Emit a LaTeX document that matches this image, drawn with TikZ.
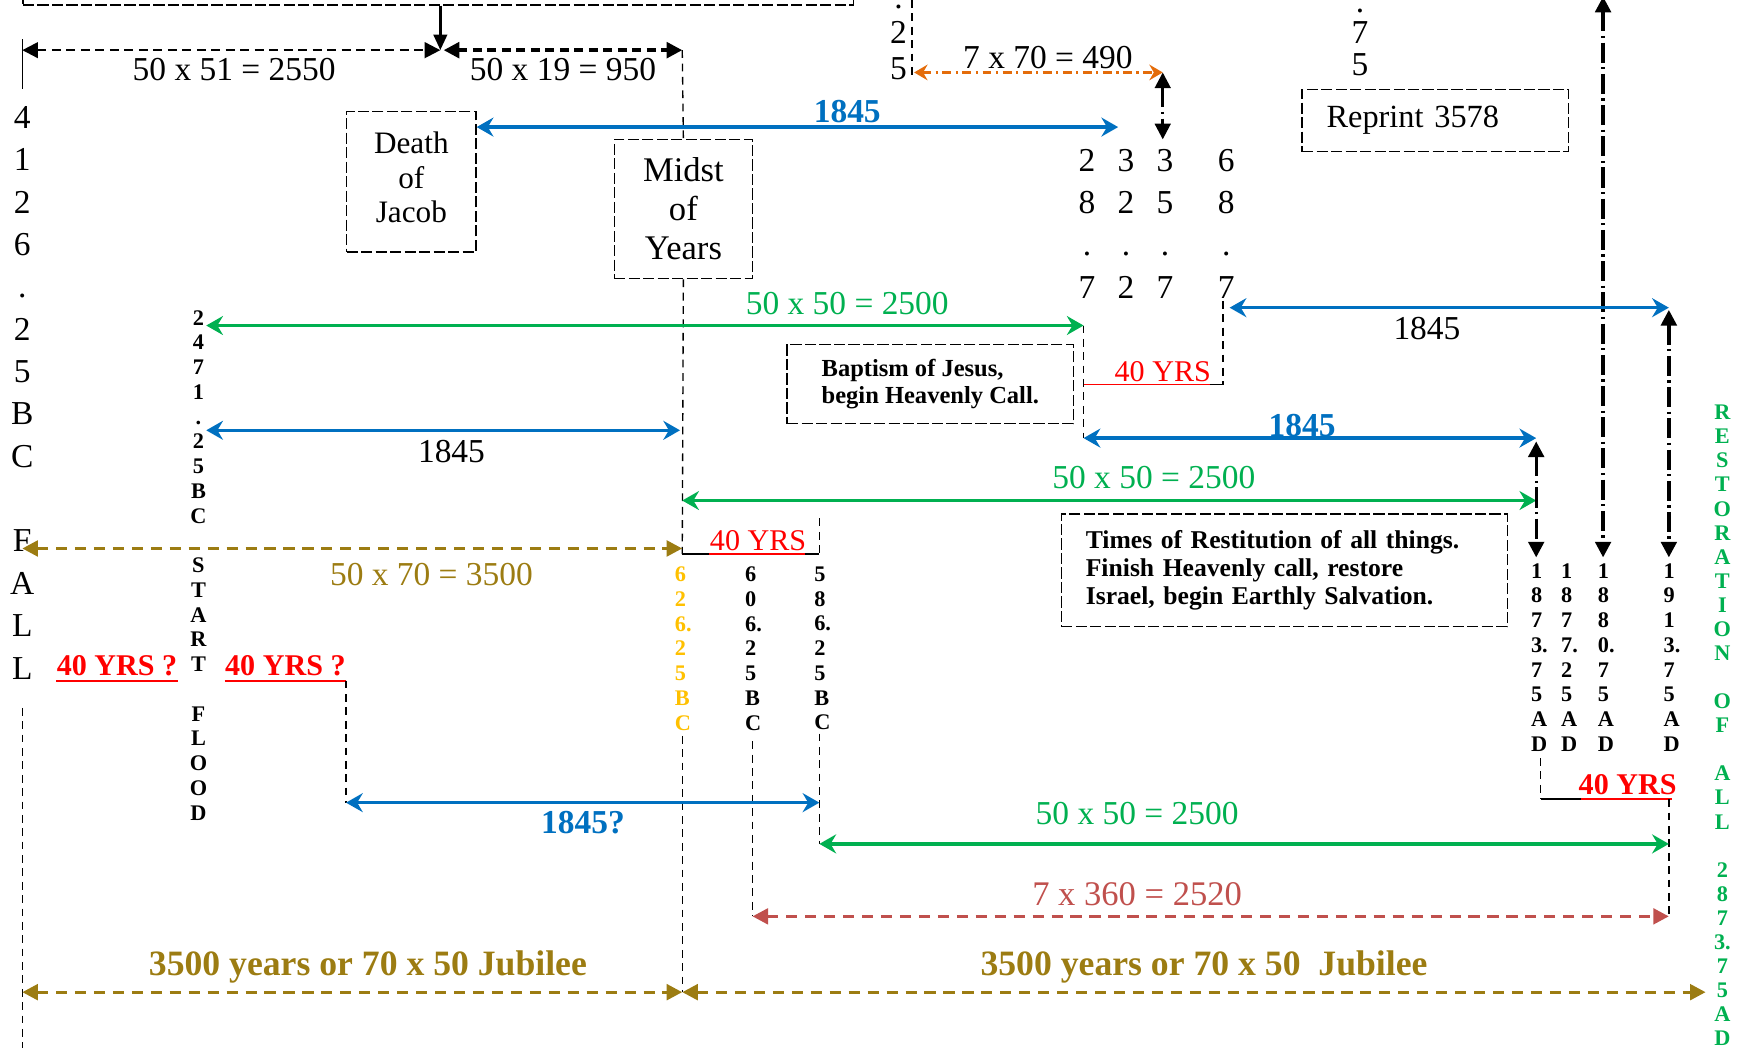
\documentclass[tikz,border=0pt]{standalone}
\usepackage{fontspec}
\setmainfont{Liberation Serif}
\usetikzlibrary{arrows.meta}
\definecolor{tlblue}{HTML}{0070C0}
\definecolor{tlgreen}{HTML}{00B050}
\definecolor{tlgold}{HTML}{9C7C12}
\definecolor{tlred}{HTML}{FF0000}
\definecolor{tlrose}{HTML}{C0504D}
\definecolor{tlorange}{HTML}{E46C0A}
\definecolor{tlyellow}{HTML}{FFC000}
\tikzset{
  % --- dashed text boxes and thin guide lines ---
  dbox/.style={draw=black, line width=0.6pt, dash pattern=on 5pt off 1.5pt,
               align=center, inner sep=0pt},
  guide/.style={draw=black, line width=0.6pt, dash pattern=on 3.5pt off 2.5pt},
  % --- spans between two dates ---
  drop/.style={draw=black, line width=1.4pt, -{Triangle[length=7pt,width=6pt]}},
  bspan/.style={draw=black, line width=1pt, dash pattern=on 4pt off 2.5pt,
                {Triangle[length=7pt,width=7pt]}-{Triangle[length=7pt,width=7pt]}},
  cspan/.style={line width=1.5pt,
                {Stealth[length=7.5pt,width=8.5pt,inset=2.5pt]}-{Stealth[length=7.5pt,width=8.5pt,inset=2.5pt]}},
  jspan/.style={line width=1.5pt, dash pattern=on 5pt off 3.5pt,
                {Triangle[length=7pt,width=7pt]}-{Triangle[length=7pt,width=7pt]}},
  ospan/.style={draw=tlorange, line width=1.2pt,
                dash pattern=on 4pt off 2pt on 1pt off 2pt,
                {Stealth[length=6pt,width=7pt,inset=2pt]}-{Stealth[length=6pt,width=7pt,inset=2pt]}},
  pointer/.style={draw=black, line width=1.5pt,
                  dash pattern=on 9pt off 2pt on 1pt off 2pt,
                  -{Triangle[length=7pt,width=7pt]}},
  twopointer/.style={pointer, {Triangle[length=7pt,width=7pt]}-{Triangle[length=7pt,width=7pt]}},
  % --- texts ---
  lbl/.style={inner sep=0pt, font=\fontsize{15}{18}\selectfont},
  blbl/.style={inner sep=0pt, font=\fontsize{15}{18}\selectfont\bfseries},
  yrs/.style={inner sep=0pt, text=tlred, font=\fontsize{13.5}{16}\selectfont},
  byrs/.style={yrs, font=\fontsize{13.5}{16}\selectfont\bfseries},
  bigcol/.style={inner sep=0pt, align=center, font=\fontsize{15}{19}\selectfont},
  smallcol/.style={inner sep=0pt, align=left, anchor=north west,
                   font=\fontsize{10}{11.1}\selectfont\bfseries},
}
\begin{document}
\begin{tikzpicture}[x=0.5pt, y=-0.5pt, font=\fontsize{15}{18}\selectfont]
  \useasboundingbox (0,0) rectangle (1568,940);

  % --- key dates on the time line ---
  \coordinate (creation) at (20,45);
  \coordinate (split)    at (395,45);
  \coordinate (midtop)   at (612,45);
  \coordinate (jacob1845) at (1003,114);
  \coordinate (o490a)    at (820,65);
  \coordinate (o490b)    at (1043,65);
  \coordinate (y3357)    at (1043,125);
  \coordinate (flood2471) at (185,292);
  \coordinate (bapt)     at (972,292);
  \coordinate (bapt1845) at (972,393);
  \coordinate (ad1873)   at (1378,393);
  \coordinate (y687)     at (1097,345);
  \coordinate (y687top)  at (1097,270);
  \coordinate (r1845)    at (1103,276);
  \coordinate (ad1913)   at (1497,276);
  \coordinate (mid2500)  at (612,449);
  \coordinate (fall)     at (20,492);
  \coordinate (midyear)  at (612,497);
  \coordinate (bc586)    at (735,497);
  \coordinate (flood1845) at (185,386);
  \coordinate (mid1845)  at (610,386);

  % --- top box and the split of the first 3500 years ---
  \node[dbox, minimum width=372.5pt, minimum height=30pt, anchor=south west] (topbox) at (20,5) {};
  \draw[drop] (topbox.south -| split) -- (split);
  \draw[bspan] (creation) -- (split);
  \draw[bspan, line width=1.6pt] ([xshift=1.5pt]split) -- (midtop);
  \draw[line width=0.6pt] (creation) ++(0,-10) -- ++(0,45);
  \node[lbl] (l2550) at (210,62) {50 x 51 = 2550};
  \node[lbl] (l950) at (505,62) {50 x 19 = 950};

  % --- left date column ---
  \node[bigcol, anchor=north] (fallcol) at (20,95) {4\\1\\2\\6\\.\\2\\5\\B\\C\\~\\F\\A\\L\\L};
  \draw[guide] (20,635) -- (20,945);

  % --- Death of Jacob and Midst of Years ---
  \node[dbox, minimum width=58pt, minimum height=63pt, text depth=4pt,
        font=\fontsize{14}{15.5}\selectfont] (death) at (369,163) {Death\\of\\Jacob};
  \node[dbox, minimum width=62pt, minimum height=62.5pt,
        font=\fontsize{15.5}{17.5}\selectfont] (midst) at (613,187.5) {Midst\\of\\Years};
  \draw[guide] (midtop) -- (midst.north);
  \draw[guide] (midst.south) -- (midyear);
  \draw[cspan, draw=tlblue] (death.east |- jacob1845) -- (jacob1845);
  \node[blbl, text=tlblue] (t1845a) at (760,100) {1845};

  % --- upper right: 7 x 70 and the digit grid ---
  \node[bigcol, anchor=south, font=\fontsize{15}{16}\selectfont] (col25) at (806,72) {.\\2\\5};
  \draw[guide] (818,0) -- (818,70);
  \draw[ospan] (o490a) -- (o490b);
  \node[lbl] (l490) at (940,52) {7 x 70 = 490};
  \draw[twopointer, line width=1.2pt] (o490b) -- (y3357);
  \node[bigcol, anchor=south] (g2887) at (975,268) {2\\8\\.\\7};
  \node[bigcol, anchor=south] (g3222) at (1010,268) {3\\2\\.\\2};
  \node[bigcol, anchor=south] (g3357) at (1045,268) {3\\5\\.\\7};
  \node[bigcol, anchor=south] (g6887) at (1100,268) {6\\8\\.\\7};
  \node[bigcol, anchor=south, font=\fontsize{15}{14}\selectfont] (col75) at (1220,68) {.\\7\\5};
  \node[dbox, minimum width=119.5pt, minimum height=28pt, text width=97.5pt,
        inner xsep=11pt, align=left,
        font=\fontsize{14.5}{17}\selectfont] (reprint) at (1287.5,108) {Reprint 3578};
  \draw[twopointer] (1438,-3) -- (1438,500);

  % --- flood column ---
  \node[smallcol, align=center, anchor=north] (floodcol) at (178,278)
        {2\\4\\7\\1\\.\\2\\5\\B\\C\\~\\S\\T\\A\\R\\T\\~\\F\\L\\O\\O\\D};

  % --- 2500 / 1845 spans round the baptism ---
  \draw[cspan, draw=tlgreen] (flood2471) -- (bapt);
  \node[lbl, text=tlgreen] (l2500a) at (760,272) {50 x 50 = 2500};
  \draw[guide] (bapt) -- (bapt1845);
  \draw[cspan, draw=tlblue] (flood1845) -- (mid1845);
  \node[lbl] (t1845b) at (405,405) {1845};
  \node[dbox, minimum width=128.5pt, minimum height=35.5pt, align=left,
        font=\fontsize{11}{12.5}\selectfont\bfseries] (baptism) at (834.5,344.5)
        {Baptism of Jesus,\\begin Heavenly Call.};
  \draw[guide] (y687top) -- (y687);
  \draw[tlred, line width=0.8pt] (bapt |- y687) -- (1085,345);
  \draw[line width=0.8pt] (1085,345) -- (y687);
  \node[yrs] (yrs1) at (1043,333) {40 YRS};
  \draw[cspan, draw=tlblue] (r1845) -- (ad1913);
  \node[lbl] (t1845c) at (1280,295) {1845};
  \draw[cspan, draw=tlblue] (bapt1845) -- (ad1873);
  \node[blbl, text=tlblue] (t1845d) at (1168,382) {1845};
  \draw[cspan, draw=tlgreen] (mid2500) -- (ad1873 |- mid2500);
  \node[lbl, text=tlgreen] (l2500b) at (1035,428) {50 x 50 = 2500};
  \draw[twopointer] ([yshift=-1.5pt]ad1873) -- (1378,500);
  \draw[twopointer] ([yshift=-1pt]ad1913) -- (1497,500);
  \node[dbox, minimum height=50.5pt, text width=178pt, inner xsep=11pt, align=left,
        font=\fontsize{11.5}{12.5}\selectfont\bfseries] (restit) at (1152,511.5)
        {Times of Restitution of all things.\\Finish Heavenly call, restore\\Israel, begin Earthly Salvation.};

  % --- fall to midst of years ---
  \draw[jspan, draw=tlgold] (fall) -- (midyear |- fall);
  \node[lbl, text=tlgold] (l3500) at (387,515) {50 x 70 = 3500};
  \draw[line width=0.8pt] (midyear) -- (636,497);
  \draw[tlred, line width=0.8pt] (636,497) -- (722,497);
  \draw[line width=0.8pt] (722,497) -- (bc586);
  \node[yrs] (yrs2) at (680,485) {40 YRS};
  \draw[guide] (735,465) -- (bc586);

  % --- BC columns ---
  \node[smallcol, text=tlyellow] (bc626) at (605,508) {6\\2\\6.\\2\\5\\B\\C};
  \node[smallcol] (bc606) at (668,508) {6\\0\\6.\\2\\5\\B\\C};
  \node[smallcol] (bc586col) at (730,508) {5\\8\\6.\\2\\5\\B\\C};
  \draw[guide] (612,660) -- (612,890);
  \draw[guide] (675,665) -- (675,822);
  \draw[guide] (735,658) -- (735,757);

  % --- 40 YRS ? before and after the flood ---
  \node[byrs] (yrsA) at (105,597) {40 YRS ?};
  \node[byrs] (yrsB) at (256,597) {40 YRS ?};
  \draw[tlred, line width=0.8pt] ([yshift=-2pt]yrsA.south west) -- ([yshift=-2pt]yrsA.south east);
  \draw[tlred, line width=0.8pt] ([yshift=-2pt]yrsB.south west) -- ([yshift=-2pt]yrsB.south east);
  \coordinate (flood40) at ([yshift=-2pt]yrsB.south east);
  \coordinate (flood1845b) at (flood40 |- 0,720);
  \draw[guide] (flood40) -- (flood1845b);
  \draw[cspan, draw=tlblue] (flood1845b) -- (735,720);
  \node[blbl, text=tlblue] (t1845e) at (523,738) {1845?};

  % --- AD columns and restoration ---
  \node[smallcol] (ad1873col) at (1373,505) {1\\8\\7\\3.\\7\\5\\A\\D};
  \node[smallcol] (ad1877col) at (1400,505) {1\\8\\7\\7.\\2\\5\\A\\D};
  \node[smallcol] (ad1880col) at (1433,505) {1\\8\\8\\0.\\7\\5\\A\\D};
  \node[smallcol] (ad1913col) at (1492,505) {1\\9\\1\\3.\\7\\5\\A\\D};
  \node[smallcol, align=center, anchor=north, text=tlgreen,
        font=\fontsize{10}{10.8}\selectfont\bfseries] (restcol) at (1545,363)
        {R\\E\\S\\T\\O\\R\\A\\T\\I\\O\\N\\~\\O\\F\\~\\A\\L\\L\\~\\2\\8\\7\\3.\\7\\5\\A\\D};
  \draw[guide] (1382,680) -- (1382,717);
  \draw[line width=0.8pt] (1382,717) -- (1418,717);
  \draw[tlred, line width=0.8pt] (1418,717) -- (1500,717);
  \node[byrs] (yrs3) at (1460,704) {40 YRS};
  \draw[guide] (1497,717) -- (1497,822);

  % --- lower spans ---
  \draw[cspan, draw=tlgreen] (735,757) -- (1497,757);
  \node[lbl, text=tlgreen] (l2500c) at (1020,730) {50 x 50 = 2500};
  \draw[jspan, draw=tlrose] (675,822) -- (1497,822);
  \node[lbl, text=tlrose, font=\fontsize{15.5}{18}\selectfont] (l2520) at (1020,802) {7 x 360 = 2520};
  \draw[jspan, draw=tlgold] (20,890) -- (612,890);
  \draw[jspan, draw=tlgold] (612,890) -- (1530,890);
  \node[blbl, text=tlgold, anchor=base, font=\fontsize{16}{18}\selectfont\bfseries] (jub1) at (330,875)
        {3500 years or 70 x 50 Jubilee};
  \node[blbl, text=tlgold, anchor=base, font=\fontsize{16}{18}\selectfont\bfseries] (jub2) at (1080,875)
        {3500 years or 70 x 50~ Jubilee};
\end{tikzpicture}
\end{document}
